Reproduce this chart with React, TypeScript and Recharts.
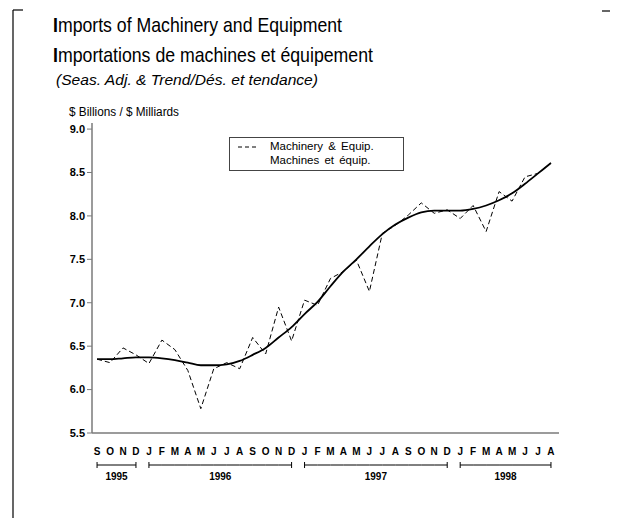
import React from 'react';
import { LineChart, Line, XAxis, YAxis, Legend } from 'recharts';

const months = ['S', 'O', 'N', 'D', 'J', 'F', 'M', 'A', 'M', 'J', 'J', 'A', 'S', 'O', 'N', 'D', 'J', 'F', 'M', 'A', 'M', 'J', 'J', 'A', 'S', 'O', 'N', 'D', 'J', 'F', 'M', 'A', 'M', 'J', 'J', 'A'];
const monthYears = [
  1995, 1995, 1995, 1995,
  1996, 1996, 1996, 1996, 1996, 1996, 1996, 1996, 1996, 1996, 1996, 1996,
  1997, 1997, 1997, 1997, 1997, 1997, 1997, 1997, 1997, 1997, 1997, 1997,
  1998, 1998, 1998, 1998, 1998, 1998, 1998, 1998,
];
const seasAdj = [
  6.35, 6.31, 6.48, 6.40,
  6.30, 6.57, 6.46, 6.22, 5.78, 6.24, 6.31, 6.24, 6.60, 6.41, 6.95, 6.56,
  7.03, 6.97, 7.28, 7.36, 7.49, 7.13, 7.80, 7.89, 8.01, 8.15, 8.03, 8.07,
  7.97, 8.12, 7.82, 8.28, 8.17, 8.45, 8.49, 8.61,
];
const trend = [
  6.35, 6.35, 6.36, 6.37,
  6.37, 6.36, 6.34, 6.31, 6.28, 6.28, 6.29, 6.33, 6.40, 6.48, 6.60, 6.72,
  6.87, 7.01, 7.19, 7.36, 7.50, 7.65, 7.79, 7.90, 7.98, 8.04, 8.06, 8.06,
  8.06, 8.08, 8.12, 8.18, 8.26, 8.37, 8.49, 8.61,
];
const yTicks = [5.5, 6.0, 6.5, 7.0, 7.5, 8.0, 8.5, 9.0];
const legendLines = ['Machinery & Equip.', 'Machines et équip.'];
const titleLines = ['Imports of Machinery and Equipment', 'Importations de machines et équipement'];
const subtitle = '(Seas. Adj. & Trend/Dés. et tendance)';
const unitLabel = '$ Billions / $ Milliards';

const data = months.map((m, i) => ({ i, m, year: monthYears[i], seasAdj: seasAdj[i], trend: trend[i] }));

const W = 618;
const H = 521;
const PLOT_LEFT = 92;
const PLOT_RIGHT = 559;
const PLOT_TOP = 123;
const PLOT_BOTTOM = 433;
const X_DOMAIN: [number, number] = [-0.39, 35.62];
const STEP = (PLOT_RIGHT - PLOT_LEFT) / (X_DOMAIN[1] - X_DOMAIN[0]);
const FRAME = '#7a7a7a';
const FONT = '"Liberation Sans", Arial, sans-serif';

const MonthTick = (props: any) => {
  const { x, y, payload } = props;
  const i = payload.value as number;
  const yr = monthYears[i];
  const isFirst = i === 0 || monthYears[i - 1] !== yr;
  const isLast = i === months.length - 1 || monthYears[i + 1] !== yr;
  const count = monthYears.filter((v) => v === yr).length;
  const by = y + 32;
  return (
    <g>
      <text x={x} y={y + 22} textAnchor="middle" fontFamily={FONT} fontWeight="bold" fontSize={10} fill="#000">
        {months[i]}
      </text>
      {!isLast && <line x1={x} x2={x + STEP} y1={by} y2={by} stroke="#000" strokeWidth={1} />}
      {(isFirst || isLast) && <line x1={x} x2={x} y1={by - 3} y2={by + 3} stroke="#000" strokeWidth={1} />}
      {isFirst && (
        <text x={x + ((count - 1) * STEP) / 2} y={y + 47} textAnchor="middle" fontFamily={FONT} fontWeight="bold" fontSize={10} fill="#000">
          {String(yr)}
        </text>
      )}
    </g>
  );
};

const LegendBox = () => (
  <div
    style={{
      width: 175,
      height: 34,
      boxSizing: 'border-box',
      border: '1px solid #444',
      background: '#fff',
      position: 'relative',
      fontFamily: FONT,
      fontSize: 11.5,
      color: '#000',
    }}
  >
    <svg width={30} height={20} style={{ position: 'absolute', left: 6, top: 0 }}>
      <line x1={2} x2={22} y1={9} y2={9} stroke="#000" strokeWidth={1} strokeDasharray="4 3" />
    </svg>
    <div style={{ position: 'absolute', left: 40, top: 1, lineHeight: '14px', whiteSpace: 'nowrap', wordSpacing: 2 }}>{legendLines[0]}</div>
    <div style={{ position: 'absolute', left: 40, top: 15, lineHeight: '14px', whiteSpace: 'nowrap', wordSpacing: 2 }}>{legendLines[1]}</div>
  </div>
);

export default function App() {
  return (
    <div style={{ position: 'absolute', left: 0, top: 0, width: W, height: H, background: '#fff', fontFamily: FONT }}>
      <LineChart
        width={W}
        height={H}
        data={data}
        margin={{ top: PLOT_TOP, right: W - PLOT_RIGHT, bottom: 0, left: 0 }}
      >
        <XAxis
          dataKey="i"
          type="number"
          domain={X_DOMAIN}
          ticks={data.map((d) => d.i)}
          interval={0}
          allowDataOverflow
          height={H - PLOT_BOTTOM}
          tickSize={0}
          tickMargin={0}
          tickLine={false}
          axisLine={{ stroke: FRAME, strokeWidth: 1.5 }}
          tick={<MonthTick />}
        />
        <XAxis
          xAxisId="top"
          orientation="top"
          dataKey="i"
          type="number"
          domain={X_DOMAIN}
          height={0}
          tick={false}
          tickLine={false}
          axisLine={{ stroke: FRAME, strokeWidth: 1.5 }}
        />
        <YAxis
          type="number"
          domain={[5.5, 9.07]}
          ticks={yTicks}
          interval={0}
          allowDataOverflow
          width={PLOT_LEFT}
          tickSize={5}
          tickMargin={2}
          tickFormatter={(v: number) => v.toFixed(1)}
          tick={{ fontFamily: FONT, fontWeight: 'bold', fontSize: 11, fill: '#000' }}
          tickLine={{ stroke: FRAME }}
          axisLine={{ stroke: FRAME, strokeWidth: 1.5 }}
        />
        <YAxis
          yAxisId="right"
          orientation="right"
          type="number"
          domain={[5.5, 9.07]}
          width={0}
          tick={false}
          tickLine={false}
          axisLine={{ stroke: FRAME, strokeWidth: 1.5 }}
        />
        <Legend
          layout="horizontal"
          verticalAlign="middle"
          align="center"
          content={<LegendBox />}
          wrapperStyle={{ position: 'absolute', left: 229, top: 137, width: 175, height: 34, bottom: 'auto', right: 'auto' }}
        />
        <Line
          type="linear"
          dataKey="seasAdj"
          stroke="#000"
          strokeWidth={1}
          strokeDasharray="5 3"
          dot={false}
          isAnimationActive={false}
        />
        <Line
          type="monotone"
          dataKey="trend"
          stroke="#000"
          strokeWidth={1.8}
          dot={false}
          isAnimationActive={false}
          legendType="none"
        />
      </LineChart>
      <svg width={W} height={H} style={{ position: 'absolute', left: 0, top: 0, pointerEvents: 'none' }}>
        <line x1={13} x2={13} y1={10} y2={518} stroke="#000" strokeWidth={1.2} />
        <line x1={13} x2={23} y1={10} y2={10} stroke="#000" strokeWidth={1.2} />
        <line x1={602} x2={610} y1={11} y2={11} stroke="#000" strokeWidth={1.2} />
        <text x={53} y={32} fontFamily={FONT} fontSize={21} fill="#000" textLength={289} lengthAdjust="spacingAndGlyphs">
          <tspan fontWeight="bold">{titleLines[0].charAt(0)}</tspan>
          {titleLines[0].slice(1)}
        </text>
        <text x={53} y={62} fontFamily={FONT} fontSize={21} fill="#000" textLength={320} lengthAdjust="spacingAndGlyphs">
          <tspan fontWeight="bold">{titleLines[1].charAt(0)}</tspan>
          {titleLines[1].slice(1)}
        </text>
        <text x={56} y={85} fontFamily={FONT} fontSize={15} fontStyle="italic" fill="#000" textLength={262} lengthAdjust="spacingAndGlyphs">
          {subtitle}
        </text>
        <text x={69} y={116} fontFamily={FONT} fontSize={12} fill="#000" textLength={110} lengthAdjust="spacingAndGlyphs">
          {unitLabel}
        </text>
      </svg>
    </div>
  );
}
